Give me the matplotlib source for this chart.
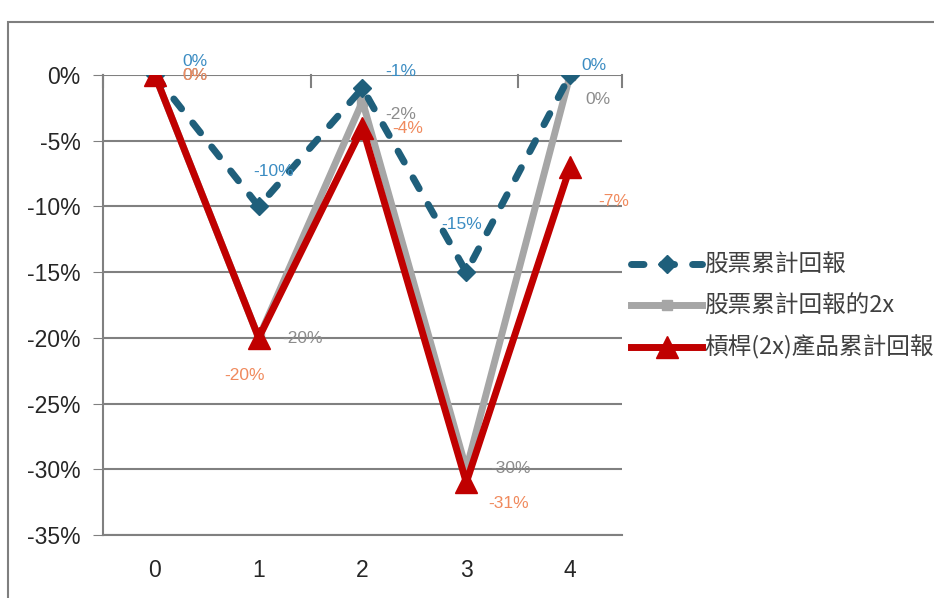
import numpy as np
import matplotlib.pyplot as plt
from matplotlib.patches import Rectangle

plt.rcParams['font.family'] = ['Liberation Sans', 'Noto Sans CJK TC', 'DejaVu Sans']

days = [0, 1, 2, 3, 4]
stock = [0, -10, -1, -15, 0]
stock2x = [0, -20, -2, -30, 0]
lev = [0, -20, -4, -31, -7]
names = ['股票累計回報', '股票累計回報的2x', '槓桿(2x)產品累計回報']

# label offsets in pixels (dx, dy) for each series
off_stock = [(40, 14), (15, 35), (38, 17), (-5, 48), (24, 9)]
off_2x = [(40, 0), (44, -1), (38, -13), (44, 1), (28, -25)]
off_lev = [(40, 0), (-14, -38), (45, -1), (42, -21), (44, -35)]

fig = plt.figure(figsize=(9.34, 5.98), dpi=100)
ax = fig.add_axes([103 / 934, 1 - 535 / 598, (622 - 103) / 934, (535 - 75) / 598])

fig.patches.append(Rectangle((8 / 934, -0.1), 1.2, 1 - 22 / 598 + 0.1, transform=fig.transFigure,
                             fill=False, edgecolor='#7f7f7f', linewidth=1.5))

l1, = ax.plot(days, stock, color='#1f5f7b', lw=5, ls=(0, (1.8, 2.6)), dash_capstyle='round',
              marker='D', ms=9, label=names[0], zorder=5)
l2, = ax.plot(days, stock2x, color='#a6a6a6', lw=5, marker='s', ms=7, label=names[1], zorder=4)
l3, = ax.plot(days, lev, color='#c00000', lw=5, marker='^', ms=16, label=names[2], zorder=6)

def put_labels(vals, offs, color):
    for x, v, (dx, dy) in zip(days, vals, offs):
        ax.annotate(f'{v}%', (x, v), xytext=(dx * 0.72, dy * 0.72), textcoords='offset points',
                    ha='center', va='center', color=color, fontsize=12.5, zorder=8)

put_labels(stock, off_stock, '#3b8cc2')
put_labels(stock2x, off_2x, '#8c8c8c')
put_labels(lev, off_lev, '#f08a5d')

ax.set_xlim(-0.5, 4.5)
ax.set_ylim(-35, 0)
ax.set_yticks(np.arange(-35, 1, 5))
ax.set_yticklabels([f'{t}%' for t in np.arange(-35, 1, 5)], fontsize=16.5, color='#262626')
ax.set_xticks(days)
ax.set_xticklabels([str(d) for d in days], fontsize=16.5, color='#262626')
ax.tick_params(axis='x', length=0, pad=17)
ax.tick_params(axis='y', length=7, color='#808080', pad=9)
ax.grid(axis='y', color='#808080', lw=1.5)
ax.set_axisbelow(True)
for s in ['top', 'right']:
    ax.spines[s].set_visible(False)
for s in ['bottom', 'left']:
    ax.spines[s].set_color('#808080')
    ax.spines[s].set_linewidth(1.5)

# category axis crosses at 0 with tick marks every two categories
for xt in [-0.5, 1.5, 3.5, 4.5]:
    ax.plot([xt, xt], [0, -0.9], color='#808080', lw=1.5, clip_on=False, zorder=2)

leg = fig.legend(handles=[l1, l2, l3], loc='center left', bbox_to_anchor=(610 / 934, 1 - 307 / 598),
                 frameon=False, handlelength=3.0, handletextpad=0.1, labelspacing=0.75,
                 prop={'family': ['Noto Sans CJK TC', 'DejaVu Sans'], 'size': 17})
for t in leg.get_texts():
    t.set_color('#404040')

fig.savefig('out.png', dpi=100)
